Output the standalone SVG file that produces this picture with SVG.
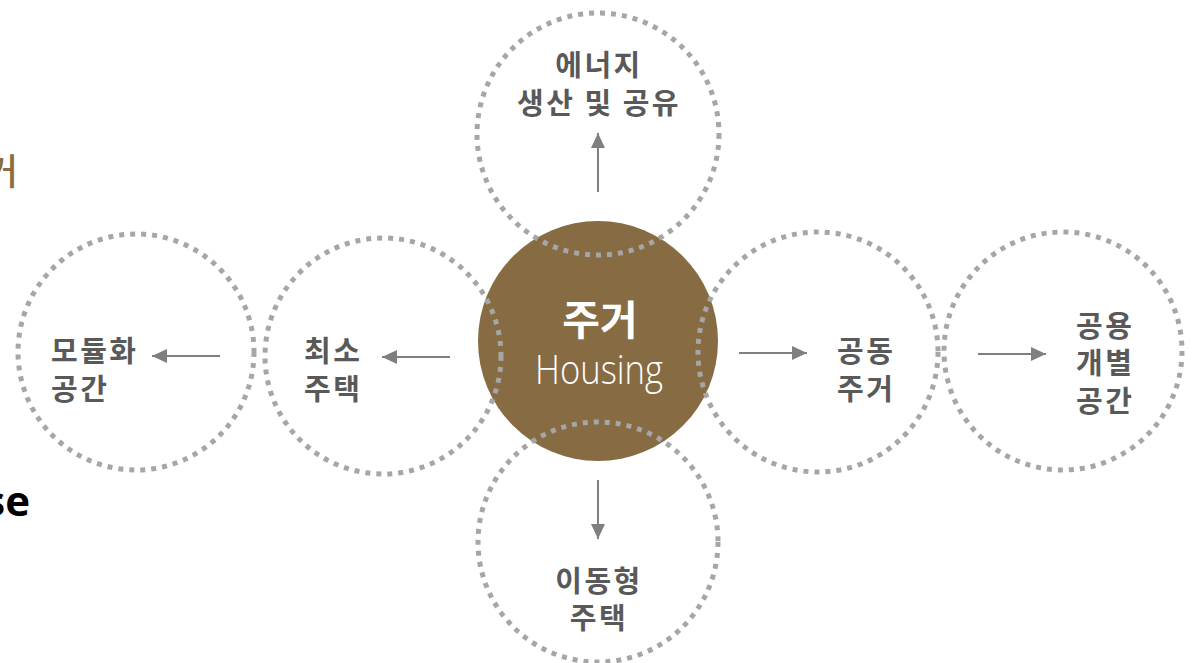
<svg xmlns="http://www.w3.org/2000/svg" width="1192" height="663" viewBox="0 0 1192 663">
<style>
.dot{fill:none;stroke:#A6A6A6;stroke-width:5;stroke-dasharray:5 6}
.lbl{font-family:"Noto Sans CJK KR","Noto Sans",sans-serif;font-weight:700;font-size:29px;fill:#595959;letter-spacing:2.5px}
.mid{text-anchor:middle}
.arr{stroke:#7F7F7F;stroke-width:2;fill:none;marker-end:url(#ah)}
</style>
<defs>
<marker id="ah" markerUnits="userSpaceOnUse" markerWidth="16" markerHeight="14" refX="15" refY="7" orient="auto">
<path d="M0,0 L15,7 L0,14 z" fill="#7F7F7F"/>
</marker>
</defs>
<rect width="1192" height="663" fill="#FFFFFF"/>
<text x="18" y="185" text-anchor="end" font-family="Noto Sans CJK KR, sans-serif" font-weight="500" font-size="36" fill="#8B6D3F">거</text>
<text x="30" y="516" text-anchor="end" font-family="Open Sans, Liberation Sans, sans-serif" font-weight="700" font-size="42" fill="#000000">se</text>
<g id="node-center">
<circle cx="598" cy="341" r="120" fill="#866B43"/>
<text x="600" y="335" text-anchor="middle" font-family="Noto Sans CJK KR, sans-serif" font-weight="700" font-size="41" fill="#FFFFFF">주거</text>
<text x="535" y="384" textLength="128" lengthAdjust="spacingAndGlyphs" font-family="Open Sans, Liberation Sans, sans-serif" font-weight="300" font-size="40" fill="#FFFFFF">Housing</text>
</g>
<g id="node-energy">
<circle class="dot" cx="598" cy="134" r="121"/>
<text class="lbl mid" x="599" y="76">에너지</text>
<text class="lbl mid" x="599" y="114">생산 및 공유</text>
</g>
<g id="node-modular">
<circle class="dot" cx="136" cy="352" r="118"/>
<text class="lbl" x="51" y="362">모듈화</text>
<text class="lbl" x="51" y="400">공간</text>
</g>
<g id="node-minimal">
<circle class="dot" cx="383" cy="356" r="118"/>
<text class="lbl" x="304" y="362">최소</text>
<text class="lbl" x="304" y="400">주택</text>
</g>
<g id="node-cohousing">
<circle class="dot" cx="818" cy="352" r="120"/>
<text class="lbl" x="837" y="362">공동</text>
<text class="lbl" x="837" y="400">주거</text>
</g>
<g id="node-shared">
<circle class="dot" cx="1063" cy="351" r="119"/>
<text class="lbl" x="1076" y="337">공용</text>
<text class="lbl" x="1076" y="374">개별</text>
<text class="lbl" x="1076" y="412">공간</text>
</g>
<g id="node-mobile">
<circle class="dot" cx="598" cy="542" r="120"/>
<text class="lbl mid" x="599" y="592">이동형</text>
<text class="lbl mid" x="599" y="629">주택</text>
</g>
<g id="connectors">
<line class="arr" x1="598" y1="192" x2="598" y2="133"/>
<line class="arr" x1="450" y1="357" x2="382" y2="357"/>
<line class="arr" x1="220" y1="356" x2="152" y2="356"/>
<line class="arr" x1="739" y1="353" x2="807" y2="353"/>
<line class="arr" x1="978" y1="354" x2="1046" y2="354"/>
<line class="arr" x1="598" y1="480" x2="598" y2="539"/>
</g>
</svg>
